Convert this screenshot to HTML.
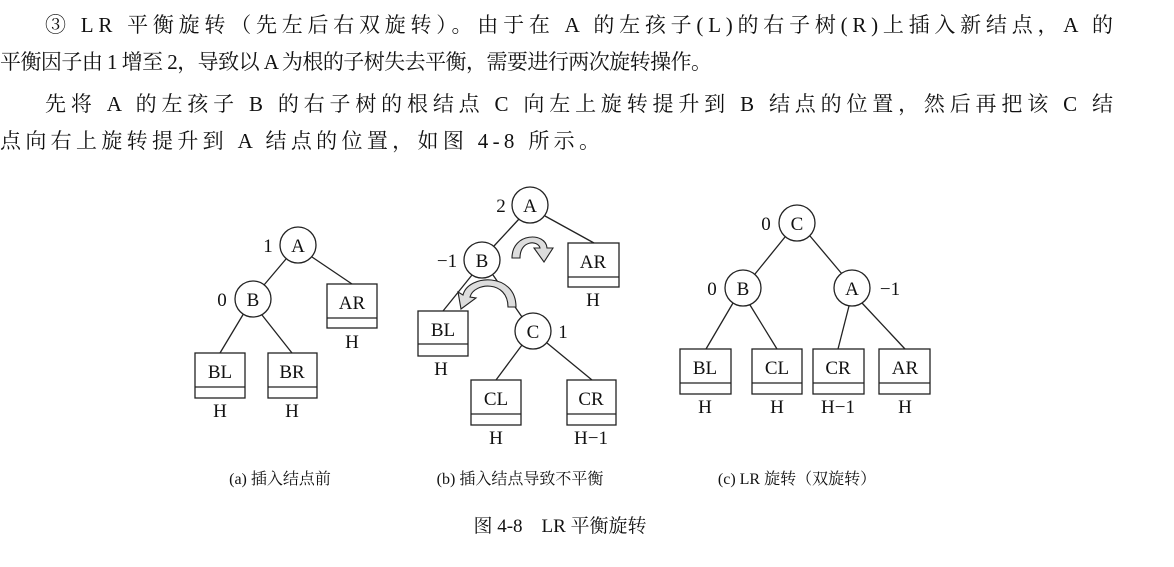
<!DOCTYPE html>
<html><head><meta charset="utf-8"><style>
html,body{margin:0;padding:0;background:#fff;width:1174px;height:567px;overflow:hidden}
svg text{font-family:"Liberation Serif","Noto Serif CJK SC",serif;fill:#111}
</style></head><body>
<svg width="1174" height="567" style="position:absolute;left:0;top:0" font-size="19">
<g font-size="21">
<text x="45" y="32" textLength="1068" lengthAdjust="spacing">③ LR 平衡旋转（先左后右双旋转）。由于在 A 的左孩子(L)的右子树(R)上插入新结点，A 的</text>
<text x="0" y="69" textLength="712" lengthAdjust="spacing">平衡因子由 1 增至 2，导致以 A 为根的子树失去平衡，需要进行两次旋转操作。</text>
<text x="45" y="111" textLength="1068" lengthAdjust="spacing">先将 A 的左孩子 B 的右子树的根结点 C 向左上旋转提升到 B 结点的位置，然后再把该 C 结</text>
<text x="0" y="148" textLength="600" lengthAdjust="spacing">点向右上旋转提升到 A 结点的位置，如图 4-8 所示。</text>
</g>
<g stroke="#222" stroke-width="1.3" fill="none">
<line x1="286" y1="259" x2="264" y2="285"/><line x1="312" y1="257" x2="352" y2="284"/>
<line x1="244" y1="313" x2="220" y2="353"/><line x1="262" y1="315" x2="292" y2="353"/>
<circle cx="298" cy="245" r="18" fill="#fff"/><circle cx="253" cy="299" r="18" fill="#fff"/>
<rect x="327" y="284" width="50" height="44"/><line x1="327" y1="318" x2="377" y2="318"/>
<rect x="195" y="353" width="50" height="45"/><line x1="195" y1="387" x2="245" y2="387"/>
<rect x="268" y="353" width="49" height="45"/><line x1="268" y1="387" x2="317" y2="387"/>
<line x1="519" y1="219" x2="494" y2="246"/><line x1="545" y1="216" x2="594" y2="243"/>
<line x1="472" y1="275" x2="443" y2="311"/><line x1="493" y1="275" x2="522" y2="317"/>
<line x1="522" y1="345" x2="496" y2="380"/><line x1="547" y1="343" x2="592" y2="380"/>
<circle cx="530" cy="205" r="18" fill="#fff"/><circle cx="482" cy="260" r="18" fill="#fff"/><circle cx="533" cy="331" r="18" fill="#fff"/>
<rect x="568" y="243" width="51" height="44"/><line x1="568" y1="277" x2="619" y2="277"/>
<rect x="418" y="311" width="50" height="45"/><line x1="418" y1="344" x2="468" y2="344"/>
<rect x="471" y="380" width="50" height="45"/><line x1="471" y1="414" x2="521" y2="414"/>
<rect x="567" y="380" width="49" height="45"/><line x1="567" y1="414" x2="616" y2="414"/>
<path d="M512,258 C512,232 546,232 547,248 L553,248 L544,262 L534,248 L540,248 C538,240 520,240 520,258 Z" fill="#ddd" stroke-width="1.1"/>
<path d="M508,307 C508,280 474,282 470,297 L476,298 L461,309 L458,292 L463,295 C468,274 516,272 516,307 Z" fill="#ddd" stroke-width="1.1"/>
<line x1="785" y1="237" x2="755" y2="274"/><line x1="810" y1="236" x2="842" y2="274"/>
<line x1="733" y1="303" x2="706" y2="349"/><line x1="750" y1="305" x2="777" y2="349"/>
<line x1="849" y1="306" x2="838" y2="349"/><line x1="862" y1="303" x2="905" y2="349"/>
<circle cx="797" cy="223" r="18" fill="#fff"/><circle cx="743" cy="288" r="18" fill="#fff"/><circle cx="852" cy="288" r="18" fill="#fff"/>
<rect x="680" y="349" width="51" height="45"/><line x1="680" y1="383" x2="731" y2="383"/>
<rect x="752" y="349" width="50" height="45"/><line x1="752" y1="383" x2="802" y2="383"/>
<rect x="813" y="349" width="51" height="45"/><line x1="813" y1="383" x2="864" y2="383"/>
<rect x="879" y="349" width="51" height="45"/><line x1="879" y1="383" x2="930" y2="383"/>
</g>
<g text-anchor="middle">
<text x="298" y="252">A</text><text x="253" y="306">B</text>
<text x="352" y="309">AR</text><text x="352" y="348">H</text>
<text x="220" y="378">BL</text><text x="220" y="417">H</text>
<text x="292" y="378">BR</text><text x="292" y="417">H</text>
<text x="268" y="252">1</text><text x="222" y="306">0</text>
<text x="530" y="212">A</text><text x="482" y="267">B</text><text x="533" y="338">C</text>
<text x="501" y="212">2</text><text x="447" y="267">−1</text><text x="563" y="338">1</text>
<text x="593" y="268">AR</text><text x="593" y="306">H</text>
<text x="443" y="336">BL</text><text x="441" y="375">H</text>
<text x="496" y="405">CL</text><text x="496" y="444">H</text>
<text x="591" y="405">CR</text><text x="591" y="444">H−1</text>
<text x="797" y="230">C</text><text x="743" y="295">B</text><text x="852" y="295">A</text>
<text x="766" y="230">0</text><text x="712" y="295">0</text><text x="890" y="295">−1</text>
<text x="705" y="374">BL</text><text x="705" y="413">H</text>
<text x="777" y="374">CL</text><text x="777" y="413">H</text>
<text x="838" y="374">CR</text><text x="838" y="413">H−1</text>
<text x="905" y="374">AR</text><text x="905" y="413">H</text>
<text x="280" y="484" font-size="16">(a) 插入结点前</text>
<text x="520" y="484" font-size="16">(b) 插入结点导致不平衡</text>
<text x="797" y="484" font-size="16">(c) LR 旋转（双旋转）</text>
<text x="560" y="532" font-size="19" xml:space="preserve">图 4-8    LR 平衡旋转</text>
</g>
</svg>
</body></html>
